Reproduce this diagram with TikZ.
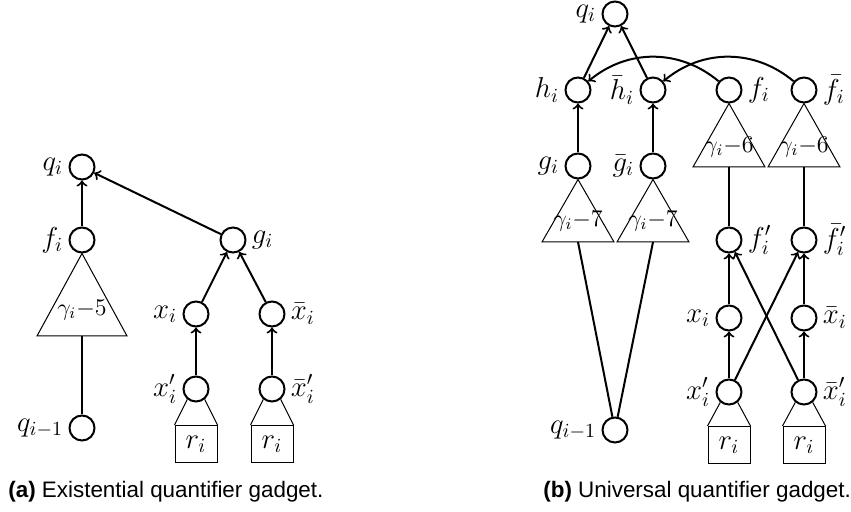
\documentclass[tikz,border=0pt]{standalone}
\usepackage{fontspec}
\newfontfamily\capfont{Liberation Sans}
\begin{document}
\begin{tikzpicture}[x=0.5pt,y=-0.5pt,
  vtx/.style={circle,draw,line width=1pt,minimum size=12.5pt,inner sep=0pt},
  every label/.style={font=\fontsize{14.4}{17}\selectfont,inner sep=2.5pt},
  arr/.style={->,line width=1pt},
  edgeline/.style={line width=1pt},
  thinl/.style={line width=0.5pt},
  trilbl/.style={font=\fontsize{12}{14}\selectfont,inner sep=0pt},
  rbox/.style={draw,line width=0.5pt,minimum width=21pt,minimum height=18.5pt,inner sep=0pt,font=\fontsize{14.4}{17}\selectfont},
  captext/.style={anchor=base west,inner sep=0pt,font=\capfont\fontsize{11.2}{13}\selectfont}
]
\useasboundingbox (0,0) rectangle (851,512);

% ---------- (a) ----------
\node[vtx,label=left:$q_i$] (qa) at (82,167) {};
\node[vtx,label=left:$f_i$] (fa) at (82,240) {};
\node[vtx,label=right:$g_i$] (ga) at (233,240) {};
\node[vtx,label=left:$x_i$] (xa) at (196,314) {};
\node[vtx,label=right:$\bar{x}_i$] (xba) at (272,314) {};
\node[vtx,label=left:$x'_i$] (xpa) at (196,389) {};
\node[vtx,label=right:$\bar{x}'_i$] (xbpa) at (272,389) {};
\node[vtx,label=left:$q_{i-1}$] (q1a) at (82,428) {};
\node[rbox] (ra) at (196,444) {$r_i$};
\node[rbox] (rba) at (272,444) {$r_i$};

\coordinate (tla) at (37,336);
\coordinate (tra) at (127,336);
\coordinate (tba) at (82,336);
\draw[thinl] (fa.south) -- (tla) -- (tra) -- cycle;
\node[trilbl] (gla) at (82,310) {$\gamma_i{-}5$};
\draw[edgeline] (tba) -- (q1a);

\draw[arr] (fa) -- (qa);
\draw[arr] (ga) -- (qa);
\draw[arr] (xa) -- (ga);
\draw[arr] (xba) -- (ga);
\draw[arr] (xpa) -- (xa);
\draw[arr] (xbpa) -- (xba);

\draw[thinl] (xpa.-130) -- (ra.north west);
\draw[thinl] (xpa.-50) -- (ra.north east);
\draw[thinl] (xbpa.-130) -- (rba.north west);
\draw[thinl] (xbpa.-50) -- (rba.north east);

% ---------- (b) ----------
\node[vtx,label=left:$q_i$] (qb) at (615,14) {};
\node[vtx,label=left:$h_i$] (hb) at (578,90) {};
\node[vtx,label=left:$\bar{h}_i$] (hbb) at (653,90) {};
\node[vtx,label=right:$f_i$] (fb) at (729,90) {};
\node[vtx,label=right:$\bar{f}_i$] (fbb) at (804,90) {};
\node[vtx,label=left:$g_i$] (gb) at (578,166) {};
\node[vtx,label=left:$\bar{g}_i$] (gbb) at (653,166) {};
\node[vtx,label=right:$f'_i$] (fpb) at (729,240) {};
\node[vtx,label=right:$\bar{f}'_i$] (fbpb) at (804,240) {};
\node[vtx,label=left:$x_i$] (xb) at (729,318) {};
\node[vtx,label=right:$\bar{x}_i$] (xbb) at (804,318) {};
\node[vtx,label=left:$x'_i$] (xpb) at (729,392) {};
\node[vtx,label=right:$\bar{x}'_i$] (xbpb) at (804,392) {};
\node[vtx,label=left:$q_{i-1}$] (q1b) at (615,430) {};
\node[rbox] (rb) at (729,445) {$r_i$};
\node[rbox] (rbb) at (804,445) {$r_i$};

% triangles under g
\coordinate (g1l) at (542,242); \coordinate (g1r) at (614,242); \coordinate (g1b) at (578,242);
\coordinate (g2l) at (617,242); \coordinate (g2r) at (689,242); \coordinate (g2b) at (653,242);
\draw[thinl] (gb.south) -- (g1l) -- (g1r) -- cycle;
\draw[thinl] (gbb.south) -- (g2l) -- (g2r) -- cycle;
\node[trilbl] (gl1) at (578,221) {$\gamma_i{-}7$};
\node[trilbl] (gl2) at (653,221) {$\gamma_i{-}7$};
% triangles under f
\coordinate (f1l) at (693,167); \coordinate (f1r) at (765,167); \coordinate (f1b) at (729,167);
\coordinate (f2l) at (768,167); \coordinate (f2r) at (840,167); \coordinate (f2b) at (804,167);
\draw[thinl] (fb.south) -- (f1l) -- (f1r) -- cycle;
\draw[thinl] (fbb.south) -- (f2l) -- (f2r) -- cycle;
\node[trilbl] (fl1) at (729,147) {$\gamma_i{-}6$};
\node[trilbl] (fl2) at (804,147) {$\gamma_i{-}6$};

\draw[edgeline] (g1b) -- (q1b);
\draw[edgeline] (g2b) -- (q1b);
\draw[edgeline] (f1b) -- (fpb);
\draw[edgeline] (f2b) -- (fbpb);

\draw[arr] (hb) -- (qb);
\draw[arr] (hbb) -- (qb);
\draw[arr] (gb) -- (hb);
\draw[arr] (gbb) -- (hbb);
\draw[arr] (fb) to[bend right=40] (hb);
\draw[arr] (fbb) to[bend right=40] (hbb);
\draw[arr] (xb) -- (fpb);
\draw[arr] (xbb) -- (fbpb);
\draw[arr] (xpb) -- (xb);
\draw[arr] (xbpb) -- (xbb);
\draw[arr] (xpb) -- (fbpb);
\draw[arr] (xbpb) -- (fpb);

\draw[thinl] (xpb.-130) -- (rb.north west);
\draw[thinl] (xpb.-50) -- (rb.north east);
\draw[thinl] (xbpb.-130) -- (rbb.north west);
\draw[thinl] (xbpb.-50) -- (rbb.north east);

% captions
\node[captext] (capa) at (8,498) {\textbf{(a)} Existential quantifier gadget.};
\node[captext] (capb) at (543,498) {\textbf{(b)} Universal quantifier gadget.};
\end{tikzpicture}
\end{document}
